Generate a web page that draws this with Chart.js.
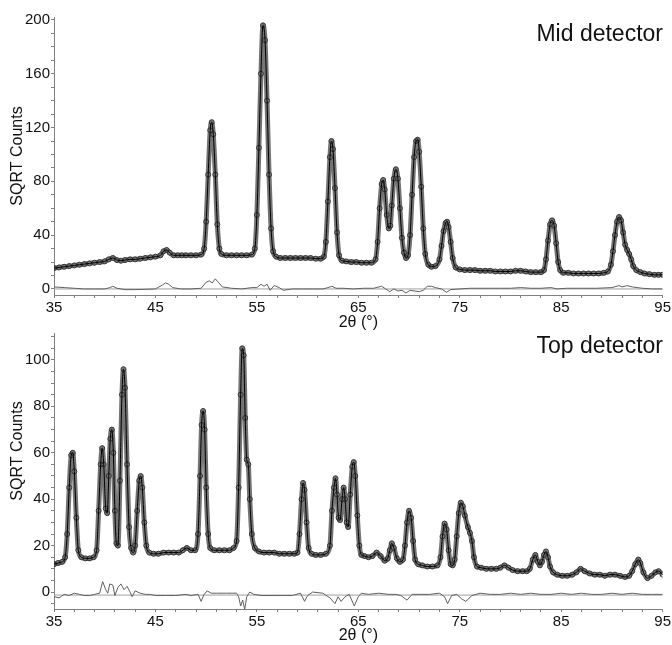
<!DOCTYPE html>
<html lang="en">
<head>
    <meta charset="UTF-8">
    <title>Mid / Top detector</title>
    <script src="https://cdn.jsdelivr.net/npm/chart.js"></script>
    <style>
        body { margin: 0; background: #fff; font-family: 'Liberation Sans', Arial, sans-serif; }
        .wrap { position: relative; width: 672px; height: 645px; overflow: hidden; }
        canvas { position: absolute; left: 0; }
        #midChart { top: 0; }
        #topChart { top: 322px; }
        .label { position: absolute; right: 9px; font-size: 23px; line-height: 23px; color: #111; }
    </style>
</head>
<body>
<div class="wrap">
    <canvas id="midChart" width="672" height="332"></canvas>
    <canvas id="topChart" width="672" height="323"></canvas>
    <div class="label" style="top:22px">Mid detector</div>
    <div class="label" style="top:334px">Top detector</div>
</div>
<script>
// ---- Mid detector: observed (2theta, sqrt counts)
const midTheta = [35,35.5,36,36.5,37,37.5,38,38.5,39,39.5,40,40.4,40.8,41.2,41.6,42,42.5,43,43.5,44,44.5,45,45.5,45.8,46.1,46.4,46.8,47.2,47.6,48,48.5,49,49.5,49.8,
    50,50.2,50.4,50.55,50.7,50.9,51.1,51.3,51.5,52,52.5,53,53.5,54,54.5,54.8,55,55.2,55.4,55.6,55.8,56,56.2,56.4,56.6,56.9,57.3,57.8,58.3,58.8,59.3,59.8,
    60.3,60.8,61.3,61.6,61.8,62,62.2,62.35,62.5,62.7,62.9,63.1,63.4,63.8,64.3,64.8,65.3,65.8,66.3,66.7,66.9,67.1,67.3,67.45,67.6,67.8,68,68.15,68.3,68.5,68.7,68.9,69.1,69.3,69.5,69.7,69.9,
    70.1,70.3,70.5,70.7,70.85,71,71.2,71.4,71.6,71.9,72.2,72.6,73,73.2,73.4,73.6,73.75,73.9,74.1,74.3,74.6,75,75.5,76,76.5,77,77.5,78,78.5,79,79.5,
    80,80.5,81,81.5,82,82.5,83,83.3,83.5,83.7,83.9,84.1,84.3,84.5,84.7,84.9,85.2,85.7,86.2,86.7,87.2,87.7,88.2,88.7,89.2,89.6,89.9,
    90.1,90.3,90.5,90.7,90.9,91.1,91.3,91.5,91.7,91.9,92.1,92.4,92.8,93.2,93.7,94.2,94.6,95];
const midObs = [15.5,16,16.5,17,17.5,18,18.5,19,19.5,20,20.5,22,23,21.5,21,21.5,22,22,22.5,23,23.5,24,25,28,29,27,25,25,25,25,25,25,25.5,30,
    50,85,118,124,115,85,48,30,26,25,25,25,25,25,25.5,30,55,105,160,196,185,140,85,45,28,24,23,23,23,23,23,23,
    23,22.5,22.5,24,35,65,98,110,104,75,42,25,21,20.5,20,20,19.5,19.5,19.5,22,35,60,78,81,74,55,45,47,62,82,89,82,60,38,27,23,25,
    40,70,98,110,111,102,76,45,26,18,16.5,17,22,32,43,49,50,46,35,23,16,14.5,14,14,14,13.5,13.5,13.5,13,13,13,
    13,13.5,13.5,13,12.5,12.5,12.5,14,22,36,48,51,47,34,20,14,12,12,11.5,11.5,11.5,11.5,11.5,11.5,12,13,18,
    28,40,50,53.5,51,42,33,29,26,22,17,14,12.5,11.5,11,10.5,10.5,10.5];
// Mid detector: difference curve
const midDiffTheta = [35,36,37,38,39,40,40.5,40.8,41.2,42,43,44,45,45.7,46,46.3,46.7,47.5,48.5,49.5,50,50.3,50.6,50.9,51.2,51.6,52.5,53.5,54.5,55,55.4,55.7,56,56.3,56.7,57.2,57.6,
    58.5,59.5,60.5,61.5,62,62.4,62.8,63.5,64.5,65.5,66.5,67.3,67.7,68.1,68.5,68.9,69.3,69.7,70.1,70.5,71,71.4,71.8,72.2,72.6,73.2,73.7,74.1,
    75,76,77,78,79,80,81,82,83,84,84.6,85.5,87,88.5,90,90.7,91,91.5,92,93,94,95];
const midDiff = [1.5,1,0.5,0,0,0,1,2,0.5,-0.5,-0.5,-0.3,0,3,4.5,3.5,1,0,0,0.5,5,6,4.5,7.5,5,1.5,0.5,0,1,1,3.5,2,3.5,-1,2.5,1,-1,
    0,0,0,0,1,2,0.5,0.5,0,0.5,0.5,2,0,-2,0,-1.5,-1,-3,-1,-1.5,-2,-1,2,2,1,0,-2.5,-0.5,
    0,0.5,0.5,0.5,0.5,0.5,1,0.5,0.5,1,0,0.5,0.5,0.5,1,2.5,1.5,2.5,1.5,0.5,0,0];
const midZero = 0;
const midYTicks = [0,10,20,30,40,50,60,70,80,90,100,110,120,130,140,150,160,170,180,190,200];
const midYLabels = [0,40,80,120,160,200];

// ---- Top detector: observed
const topTheta = [35,35.4,35.8,36.1,36.3,36.5,36.7,36.85,37,37.2,37.4,37.7,38.1,38.5,38.9,39.2,39.4,39.6,39.75,39.9,
    40.1,40.25,40.4,40.55,40.7,40.85,41,41.15,41.3,41.5,41.7,41.85,42,42.2,42.4,42.6,42.8,43,43.2,43.4,43.55,43.7,43.9,44.1,44.4,44.8,
    45.3,45.8,46.3,46.8,47.3,47.7,48.1,48.5,48.9,49.2,49.4,49.55,49.7,49.85,50,50.2,50.4,50.8,51.3,51.8,52.3,52.7,53,53.2,53.4,53.55,53.7,53.85,54,54.15,54.3,54.5,54.8,
    55.2,55.7,56.2,56.7,57.2,57.7,58.2,58.7,59,59.2,59.4,59.55,59.7,59.9,60.1,60.4,60.8,61.3,61.8,62.2,62.4,62.6,62.75,62.9,63.05,63.2,63.4,63.55,63.7,63.85,64,64.2,64.4,64.55,64.7,64.9,
    65.1,65.3,65.6,66,66.4,66.8,67.2,67.6,67.9,68.1,68.3,68.5,68.8,69.1,69.4,69.6,69.8,70,70.2,70.4,70.6,70.9,71.3,71.8,72.3,72.8,73.1,73.3,73.5,73.7,73.9,74.1,74.3,74.5,74.7,74.9,
    75.1,75.3,75.5,75.8,76,76.2,76.4,76.7,77.1,77.6,78.1,78.6,79,79.4,79.8,80.2,80.7,81.2,81.6,81.9,82.2,82.45,82.7,82.9,83.1,83.3,83.5,83.7,83.9,84.2,84.6,
    85.1,85.6,86.1,86.5,86.9,87.3,87.8,88.3,88.8,89.3,89.8,90.3,90.8,91.3,91.7,92,92.3,92.6,92.8,93.1,93.5,93.9,94.3,94.6,95];
const topObs = [12,12.5,13,15,25,45,59,60,52,32,18,15,14.5,14.5,15,18,35,55,62,55,
    36,34,50,66,70,60,35,21,20,48,85,96,88,55,28,19,17,20,35,48,50,45,30,20,17,16.5,
    16.5,17,17,17,17,18,19,18,18,25,50,72,78,70,45,25,19,18,18,18,18,19,22,45,85,105,102,75,57,55,40,25,19,
    17.5,17,17,17,16.5,16.5,16.5,16.5,17,25,40,47,44,30,19,16.5,16,16,16.5,20,35,45,49,42,32,31,40,45,40,30,28,42,54,56,50,33,
    20,16,15.5,15,15.5,17,15.5,13.5,14.5,18,21,19,14.5,13,14,20,30,35,32,22,14,12,11.5,11,11,11.5,15,24,29.5,27,18,12,11.5,14,24,34,
    38.5,37,33,28,25.5,22,15,11,10.5,10,10,10,10.5,11.5,10.5,9.5,9,9,9,10,14,16,13,11.5,13,16,17.5,15,11,8.5,7.5,
    7,7,7.5,8.5,10,9,8,7.5,7.5,7,7.5,7.5,7,6.5,7,9,12,14,12.5,8.5,6,7,8.5,9,7.5];
// Top detector: difference curve
const topDiffTheta = [35,35.5,36,36.5,37,37.5,38,38.5,39,39.5,39.8,40.1,40.3,40.5,40.8,41,41.3,41.6,41.9,42.2,42.5,42.7,43,43.5,44,44.5,45,46,47,48,48.5,49.2,49.5,49.8,
    50.1,50.5,51,52,53,53.2,53.4,53.6,53.8,54,54.3,54.7,55.5,56.5,57.5,58.5,59.3,59.7,60,60.5,61.5,62.2,62.7,63,63.3,63.7,64.1,64.6,
    65,65.3,66,67,68,68.7,69.2,69.8,70.3,71,72,73,73.5,73.8,74.2,74.7,75.2,75.6,76.2,77,78,79,80,81,82,83,84,85,86,87,88,89,90,91,92,93,94,95];
const topDiff = [-2,-2.5,-1,-1.5,-0.5,-1,-1.5,-1.5,-1,-0.5,4.5,1,-0.5,3.5,3,-1.5,2,3.5,1,2.5,0,-2,0.5,-0.5,-1,-1,-1.5,-1.5,-1.5,-1,-1.5,-1,-4,-1,
    0.5,-0.5,-0.5,-0.5,-0.5,-2,-6,-3.5,-7.5,-2,0,-1,-1.5,-1.5,-1.5,-1.5,-0.5,-4,-1.5,0,-0.5,-2.5,-5,-2,-4,-2,-1,-6,
    -2,-0.5,-1,-0.5,-1,-1,-1.5,-3.5,-1,-1,-1,-0.5,-2,-5,-1.5,-1,-3,-4,-1.5,-0.5,-1,-1,-0.5,-1,-0.5,-1,-1,-0.5,-1,-0.5,-1,-1,-0.5,-1,-0.5,-1,-1,-1];
const topZero = -1.3;
const topYTicks = [-5,0,5,10,15,20,25,30,35,40,45,50,55,60,65,70,75,80,85,90,95,100,105,110];
const topYLabels = [0,20,40,60,80,100];

const xTicks = [35,37,39,41,43,45,47,49,51,53,55,57,59,61,63,65,67,69,71,73,75,77,79,81,83,85,87,89,91,93,95];
const xLabels = [35,45,55,65,75,85,95];

function pts(xs, ys) { return xs.map((x, i) => ({ x: x, y: ys[i] })); }

function makeChart(id, theta, obs, dTheta, diff, zero, yMin, yMax, yTicks, yLabels, padTop, xHeight, titleShift) {
    const axisColor = '#808080';
    const observed = pts(theta, obs);
    new Chart(document.getElementById(id), {
        type: 'scatter',
        data: {
            datasets: [
                // calculated profile (thin black line through the data)
                { data: observed, showLine: true, borderColor: '#000', borderWidth: 1, pointRadius: 0,
                  cubicInterpolationMode: 'monotone' },
                // observed points (open circles)
                { data: observed, showLine: false, pointRadius: 2.5, pointBorderWidth: 1,
                  pointBorderColor: '#333', pointBackgroundColor: 'rgba(255,255,255,0)' },
                // dense band of observed points
                { data: observed, showLine: true, borderColor: 'rgba(70,70,70,0.75)', borderWidth: 5, pointRadius: 0,
                  cubicInterpolationMode: 'monotone' },
                { data: pts(dTheta, diff), showLine: true, borderColor: '#606060', borderWidth: 1, pointRadius: 0 },
                { data: pts([35, 95], [zero, zero]), showLine: true, borderColor: '#a0a0a0', borderWidth: 1, pointRadius: 0 }
            ]
        },
        options: {
            responsive: false, animation: false, devicePixelRatio: 1,
            layout: { padding: { top: padTop, left: 0, right: 0, bottom: 0 } },
            plugins: { legend: { display: false }, tooltip: { enabled: false } },
            scales: {
                x: {
                    type: 'linear', min: 35, max: 95,
                    afterBuildTicks: (s) => { s.ticks = xTicks.map(v => ({ value: v })); },
                    afterFit: (s) => { s.height = xHeight; },
                    grid: { drawOnChartArea: false, drawTicks: true, tickLength: 3, color: axisColor },
                    border: { display: true, color: axisColor },
                    ticks: { autoSkip: false, maxRotation: 0, padding: 1, color: '#111',
                             font: { family: 'Liberation Sans', size: 15 },
                             callback: (v) => xLabels.includes(v) ? String(v) : '' },
                    title: { display: true, text: '2θ (°)', color: '#111', padding: { top: 0, bottom: 1 },
                             font: { family: 'Liberation Sans', size: 16, lineHeight: 1 } }
                },
                y: {
                    type: 'linear', min: yMin, max: yMax,
                    afterBuildTicks: (s) => { s.ticks = yTicks.map(v => ({ value: v })); },
                    afterFit: (s) => { s.width = 54; },
                    grid: { drawOnChartArea: false, drawTicks: true, tickLength: 3, color: axisColor },
                    border: { display: true, color: axisColor },
                    ticks: { autoSkip: false, padding: 1, color: '#111',
                             font: { family: 'Liberation Sans', size: 15 },
                             callback: (v) => yLabels.includes(v) ? String(v) : '' },
                    title: { display: true, text: ' '.repeat(titleShift) + 'SQRT Counts', color: '#111',
                             padding: { top: 10, bottom: 0 },
                             font: { family: 'Liberation Sans', size: 16, lineHeight: 1 } }
                }
            }
        }
    });
}

makeChart('midChart', midTheta, midObs, midDiffTheta, midDiff, midZero, -4.5, 202.2, midYTicks, midYLabels, 17, 37, 0);
makeChart('topChart', topTheta, topObs, topDiffTheta, topDiff, topZero, -7.3, 111.6, topYTicks, topYLabels, 11, 36, 9);
</script>
</body>
</html>
